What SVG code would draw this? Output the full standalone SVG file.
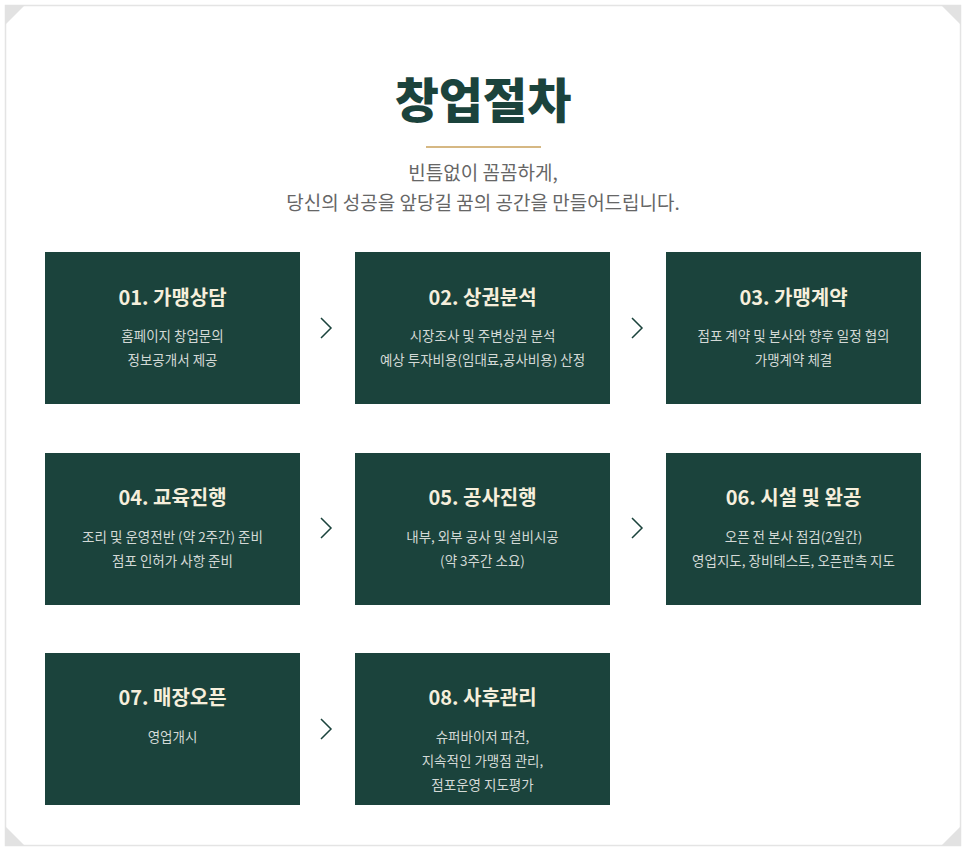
<svg xmlns="http://www.w3.org/2000/svg" width="966" height="851" viewBox="0 0 966 851">
<style>
.box{fill:#1b433c}
.t{font-family:"Noto Sans CJK KR","Noto Sans",sans-serif;font-weight:700;font-size:20px;fill:#f6efdc;text-anchor:middle}
.d{font-family:"Noto Sans CJK KR","Noto Sans",sans-serif;font-size:13.5px;fill:#d3d9d6;text-anchor:middle}
.ch{fill:none;stroke:#1b433c;stroke-width:1.5}
.cn{fill:#e2e2e2}
</style>
<rect x="0" y="0" width="966" height="851" fill="#fff"/>
<rect x="5.5" y="5.5" width="955" height="840" fill="#fff" stroke="#e4e4e4" stroke-width="1.5"/>
<polygon class="cn" points="5,5 25,5 5,25"/>
<polygon class="cn" points="961,5 941,5 961,25"/>
<polygon class="cn" points="5,846 25,846 5,826"/>
<polygon class="cn" points="961,846 941,846 961,826"/>
<text x="483" y="118" text-anchor="middle" font-family="'Noto Sans CJK KR',sans-serif" font-weight="900" font-size="48" fill="#1b433c">창업절차</text>
<line x1="426" y1="147" x2="541" y2="147" stroke="#c9a05a" stroke-width="1.5"/>
<text x="483" y="180" text-anchor="middle" font-family="'Noto Sans CJK KR',sans-serif" font-size="19" fill="#666">빈틈없이 꼼꼼하게,</text>
<text x="483" y="210" text-anchor="middle" font-family="'Noto Sans CJK KR',sans-serif" font-size="19" fill="#666">당신의 성공을 앞당길 꿈의 공간을 만들어드립니다.</text>
<g id="n1"><rect class="box" x="45" y="252" width="255" height="152"/><text class="t" x="172.5" y="305">01. 가맹상담</text><text class="d" x="172.5" y="341">홈페이지 창업문의</text><text class="d" x="172.5" y="365">정보공개서 제공</text></g>
<g id="n2"><rect class="box" x="355" y="252" width="255" height="152"/><text class="t" x="482.5" y="305">02. 상권분석</text><text class="d" x="482.5" y="341">시장조사 및 주변상권 분석</text><text class="d" x="482.5" y="365">예상 투자비용(임대료,공사비용) 산정</text></g>
<g id="n3"><rect class="box" x="666" y="252" width="255" height="152"/><text class="t" x="793.5" y="305">03. 가맹계약</text><text class="d" x="793.5" y="341">점포 계약 및 본사와 향후 일정 협의</text><text class="d" x="793.5" y="365">가맹계약 체결</text></g>
<g id="n4"><rect class="box" x="45" y="453" width="255" height="152"/><text class="t" x="172.5" y="505">04. 교육진행</text><text class="d" x="172.5" y="542">조리 및 운영전반 (약 2주간) 준비</text><text class="d" x="172.5" y="566">점포 인허가 사항 준비</text></g>
<g id="n5"><rect class="box" x="355" y="453" width="255" height="152"/><text class="t" x="482.5" y="505">05. 공사진행</text><text class="d" x="482.5" y="542">내부, 외부 공사 및 설비시공</text><text class="d" x="482.5" y="566">(약 3주간 소요)</text></g>
<g id="n6"><rect class="box" x="666" y="453" width="255" height="152"/><text class="t" x="793.5" y="505">06. 시설 및 완공</text><text class="d" x="793.5" y="542">오픈 전 본사 점검(2일간)</text><text class="d" x="793.5" y="566">영업지도, 장비테스트, 오픈판촉 지도</text></g>
<g id="n7"><rect class="box" x="45" y="653" width="255" height="152"/><text class="t" x="172.5" y="705">07. 매장오픈</text><text class="d" x="172.5" y="742">영업개시</text></g>
<g id="n8"><rect class="box" x="355" y="653" width="255" height="152"/><text class="t" x="482.5" y="705">08. 사후관리</text><text class="d" x="482.5" y="742">슈퍼바이저 파견,</text><text class="d" x="482.5" y="766">지속적인 가맹점 관리,</text><text class="d" x="482.5" y="790">점포운영 지도평가</text></g>
<g id="connectors">
<polyline class="ch" points="321,318 331,328 321,338"/>
<polyline class="ch" points="632,318 642,328 632,338"/>
<polyline class="ch" points="321,518 331,528 321,538"/>
<polyline class="ch" points="632,518 642,528 632,538"/>
<polyline class="ch" points="321,719 331,729 321,739"/>
</g>
</svg>
